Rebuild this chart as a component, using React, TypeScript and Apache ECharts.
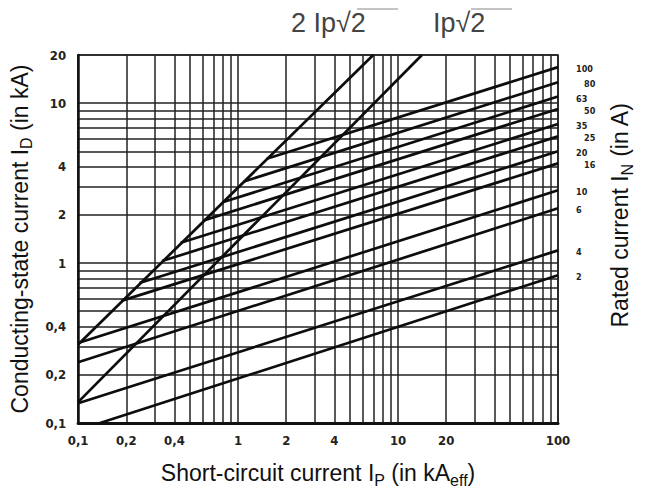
import React, { useEffect, useRef } from 'react';
import * as echarts from 'echarts';

// ---- data ----
const xTickLabels = [0.1, 0.2, 0.4, 1, 2, 4, 10, 20, 100];
const yTickLabels = [0.1, 0.2, 0.4, 1, 2, 4, 10, 20];
const xGridValues = [0.1, 0.2, 0.3, 0.4, 0.5, 0.6, 0.7, 0.8, 0.9, 1, 2, 3, 4, 5, 6, 7, 8, 9, 10, 20, 30, 40, 50, 60, 70, 80, 90, 100];
const yGridValues = [0.1, 0.2, 0.3, 0.4, 0.5, 0.6, 0.7, 0.8, 0.9, 1, 2, 3, 4, 5, 6, 7, 8, 9, 10, 20];

// rated currents (A) of the cut-off lines
const ratedCurrents = ['2', '4', '6', '10', '16', '20', '25', '35', '50', '63', '80', '100'];
// start point of each line (Ip in kA, ID in kA)
const fuseStartIp = [0.137, 0.1, 0.1, 0.1, 0.186, 0.242, 0.335, 0.438, 0.61, 0.8, 1.09, 1.51];
const fuseStartId = [0.1, 0.133, 0.24, 0.316, 0.58, 0.75, 1.03, 1.34, 1.85, 2.4, 3.24, 4.49];
// end point of each line at Ip = 100 kA
const fuseEndIp = [100, 100, 100, 100, 100, 100, 100, 100, 100, 100, 100, 100];
const fuseEndId = [0.84, 1.2, 2.2, 2.85, 4.2, 5.0, 6.2, 7.4, 9.2, 11, 13.5, 16.8];

// peak current lines
const peakNames = ['2 Ip√2', 'Ip√2'];
const peakStartIp = [0.1, 0.1];
const peakStartId = [0.31, 0.135];
const peakEndIp = [7.0, 14.1];
const peakEndId = [20, 20];

const NARROW = "'Liberation Sans Narrow', 'DejaVu Sans Condensed', 'Liberation Sans', Arial, sans-serif";
const SANS = "'Liberation Sans', Arial, Helvetica, sans-serif";

const fmt = (v: number) => String(parseFloat(Number(v).toPrecision(3))).replace('.', ',');

const titleRich = {
  m: { fontSize: 23, fontFamily: SANS, color: '#111', lineHeight: 30 },
  s: { fontSize: 16, fontFamily: SANS, color: '#111', lineHeight: 18, verticalAlign: 'bottom' as const },
};

function buildOption() {
  const lineColor = '#0d0d0d';
  const fuseSeries = ratedCurrents.map((name, i) => {
    const stagger = i >= 4 && i % 2 === 0;
    return {
      type: 'line',
      name,
      data: [
        [fuseStartIp[i], fuseStartId[i]],
        [fuseEndIp[i], fuseEndId[i]],
      ],
      symbol: 'none',
      silent: true,
      lineStyle: { color: lineColor, width: 2.7 },
      endLabel: {
        show: true,
        formatter: '{a}',
        distance: stagger ? 26 : 18,
        offset: [0, 2],
        fontSize: 9,
        fontWeight: 'bold',
        fontFamily: NARROW,
        color: '#222',
      },
      z: 3,
    };
  });
  const peakSeries = peakNames.map((name, i) => ({
    type: 'line',
    name,
    data: [
      [peakStartIp[i], peakStartId[i]],
      [peakEndIp[i], peakEndId[i]],
    ],
    symbol: 'none',
    silent: true,
    lineStyle: { color: lineColor, width: 2.7 },
    z: 3,
  }));

  return {
    animation: false,
    backgroundColor: '#fff',
    grid: {
      left: 78,
      top: 55,
      width: 480,
      height: 368,
      show: true,
      borderColor: '#222',
      borderWidth: 1.6,
      containLabel: false,
    },
    xAxis: {
      type: 'log',
      logBase: 10,
      min: 0.1,
      max: 100,
      name: '{m|Short-circuit current I}{s|P}{m| (in kA}{s|eff}{m|)}',
      nameLocation: 'middle',
      nameGap: 35,
      nameTextStyle: { rich: titleRich, fontSize: 23, fontFamily: SANS, color: '#111' },
      axisLine: { show: true, lineStyle: { color: '#111', width: 3 } },
      axisTick: { show: false, customValues: xGridValues },
      axisLabel: {
        customValues: xTickLabels,
        formatter: fmt,
        margin: 11,
        fontSize: 13,
        fontWeight: 'bold',
        fontFamily: NARROW,
        color: '#222',
      },
      splitLine: { show: true, lineStyle: { color: '#222', width: 1.5 } },
    },
    yAxis: {
      type: 'log',
      logBase: 10,
      min: 0.1,
      max: 20,
      name: '{m|Conducting-state current I}{s|D}{m| (in kA)}',
      nameLocation: 'middle',
      nameRotate: 90,
      nameGap: 41,
      nameTextStyle: { rich: titleRich, fontSize: 23, fontFamily: SANS, color: '#111' },
      axisLine: { show: true, lineStyle: { color: '#111', width: 2.5 } },
      axisTick: { show: false, customValues: yGridValues },
      axisLabel: {
        customValues: yTickLabels,
        formatter: fmt,
        margin: 12,
        fontSize: 13,
        fontWeight: 'bold',
        fontFamily: NARROW,
        color: '#222',
      },
      splitLine: { show: true, lineStyle: { color: '#222', width: 1.5 } },
    },
    series: [...peakSeries, ...fuseSeries],
    graphic: [
      {
        type: 'text',
        x: 620,
        y: 215,
        rotation: Math.PI / 2,
        style: {
          text: '{m|Rated current I}{s|N}{m| (in A)}',
          rich: titleRich,
          fontSize: 23,
          fontFamily: SANS,
          fill: '#111',
          align: 'center',
          verticalAlign: 'middle',
        },
      },
      {
        type: 'text',
        x: 291,
        y: 23,
        style: {
          text: '2 Ip√2',
          fontSize: 27,
          fontFamily: SANS,
          fill: '#444',
          align: 'left',
          verticalAlign: 'middle',
        },
      },
      {
        type: 'line',
        shape: { x1: 357, y1: 9, x2: 398, y2: 9 },
        style: { stroke: '#888', lineWidth: 1.2 },
      },
      {
        type: 'text',
        x: 433,
        y: 23,
        style: {
          text: 'Ip√2',
          fontSize: 27,
          fontFamily: SANS,
          fill: '#444',
          align: 'left',
          verticalAlign: 'middle',
        },
      },
      {
        type: 'line',
        shape: { x1: 471, y1: 9, x2: 512, y2: 9 },
        style: { stroke: '#888', lineWidth: 1.2 },
      },
    ],
  };
}

export default function App() {
  const ref = useRef<HTMLDivElement>(null);
  useEffect(() => {
    if (!ref.current) return;
    const chart = echarts.init(ref.current, null, { renderer: 'svg' });
    chart.setOption(buildOption() as any);
    return () => chart.dispose();
  }, []);
  return (
    <div
      ref={ref}
      style={{ position: 'absolute', left: 0, top: 0, width: 647, height: 496, background: '#fff' }}
    />
  );
}
